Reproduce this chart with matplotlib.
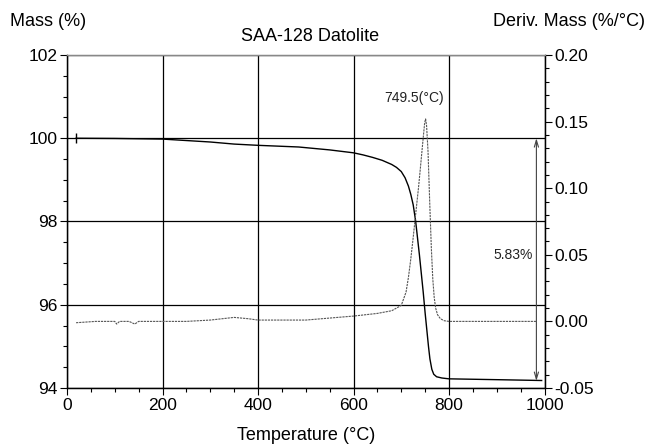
import matplotlib
matplotlib.use("Agg")
import matplotlib.pyplot as plt
from matplotlib.ticker import MultipleLocator

plt.rcParams["font.family"] = ["Liberation Sans", "DejaVu Sans"]

# --- TGA mass curve (temperature in C, mass in %) ---
mass_temp = [19, 100, 200, 300, 350, 400, 485, 550, 600, 620, 640, 660, 680,
             690, 700, 708, 715, 720, 725, 730, 738, 746, 750, 757, 760, 764,
             768, 774, 785, 800, 900, 994]
mass_vals = [100.00, 99.995, 99.98, 99.91, 99.86, 99.83, 99.79, 99.72, 99.65,
             99.60, 99.54, 99.47, 99.37, 99.30, 99.20, 99.05, 98.85, 98.65,
             98.40, 98.02, 97.20, 96.30, 95.80, 95.00, 94.70, 94.45, 94.33,
             94.27, 94.24, 94.22, 94.20, 94.18]

# --- DTG curve (%/C) ---
dtg_temp = [19, 60, 100, 104, 110, 130, 142, 150, 250, 300, 350, 380, 400, 500,
            600, 650, 680, 700, 710, 715, 720, 725, 730, 736, 740, 746, 749,
            751, 753, 756, 760, 763, 766, 769, 772, 776, 782, 790, 800, 900,
            983]
dtg_vals = [-0.001, 0.000, 0.000, -0.002, 0.000, 0.000, -0.002, 0.000, 0.000,
            0.001, 0.003, 0.002, 0.001, 0.001, 0.004, 0.006, 0.008, 0.012,
            0.022, 0.033, 0.047, 0.063, 0.080, 0.100, 0.115, 0.138, 0.149,
            0.152, 0.147, 0.128, 0.085, 0.055, 0.032, 0.018, 0.010, 0.005,
            0.002, 0.0005, 0.000, 0.000, 0.000]

peak_temp = 749.5
peak_label = "749.5(°C)"
loss_label = "5.83%"
loss_top = 100.0
loss_bottom = 94.17
loss_x = 983

fig = plt.figure(figsize=(6.48, 4.45), dpi=100)
ax = fig.add_axes([0.1034, 0.1281, 0.7369, 0.7483])
ax2 = ax.twinx()

# --- mass curve ---
ax.plot(mass_temp, mass_vals, color="black", lw=1.0, zorder=3)
ax.plot([mass_temp[0]], [mass_vals[0]], marker="|", ms=7, mew=1.0,
        color="black", zorder=3)

# --- derivative curve ---
ax2.plot(dtg_temp, dtg_vals, color="#555555", lw=0.8,
         linestyle=(0, (2, 0.8)), zorder=3)

# --- axes setup ---
ax.set_xlim(0, 1000)
ax.set_ylim(94, 102)
ax2.set_ylim(-0.05, 0.20)
ax.xaxis.set_major_locator(MultipleLocator(200))
ax.xaxis.set_minor_locator(MultipleLocator(50))
ax.yaxis.set_major_locator(MultipleLocator(2))
ax.yaxis.set_minor_locator(MultipleLocator(0.5))
ax2.yaxis.set_major_locator(MultipleLocator(0.05))
ax2.yaxis.set_minor_locator(MultipleLocator(0.01))
ax2.set_yticks([-0.05, 0.0, 0.05, 0.10, 0.15, 0.20])
ax2.set_yticklabels(["-0.05", "0.00", "0.05", "0.10", "0.15", "0.20"])

ax.grid(True, which="major", color="black", lw=0.9)
for a in (ax, ax2):
    a.tick_params(which="major", direction="out", length=5, width=0.8,
                  labelsize=12.5, colors="black", pad=2)
    a.tick_params(which="minor", direction="out", length=3, width=0.8)
    for s in a.spines.values():
        s.set_linewidth(0.9)
    a.spines["top"].set_color("#888888")

# --- annotations ---
ax2.text(peak_temp - 22, 0.168, peak_label, fontsize=10, ha="center",
         va="center", color="#222222")
ax.annotate("", xy=(loss_x, loss_bottom), xytext=(loss_x, loss_top),
            arrowprops=dict(arrowstyle="<->,head_length=0.5,head_width=0.15",
                            color="#444444", lw=0.8, shrinkA=0, shrinkB=0),
            zorder=4)
ax.text(935, 97.2, loss_label, fontsize=10, ha="center", va="center",
        color="#222222")

# --- labels ---
fig.text(0.015, 0.952, "Mass (%)", fontsize=13, ha="left", va="center")
fig.text(0.995, 0.952, "Deriv. Mass (%/°C)", fontsize=13, ha="right",
         va="center")
fig.text(0.478, 0.918, "SAA-128 Datolite", fontsize=13, ha="center",
         va="center")
fig.text(0.472, 0.022, "Temperature (°C)", fontsize=13, ha="center",
         va="center")

fig.savefig("out.png", dpi=100)
